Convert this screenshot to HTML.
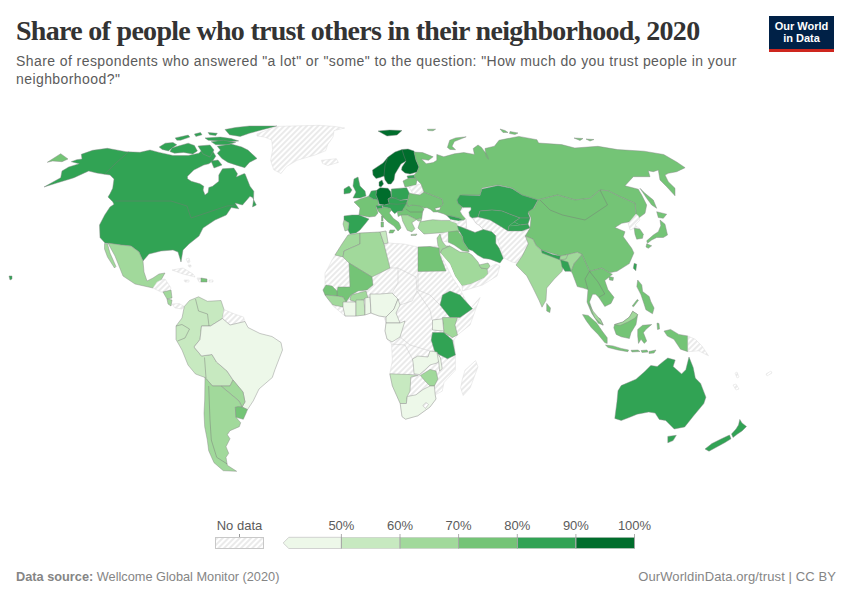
<!DOCTYPE html>
<html><head><meta charset="utf-8">
<style>
html,body{margin:0;padding:0;background:#fff;}
body{width:850px;height:600px;position:relative;overflow:hidden;font-family:"Liberation Sans",sans-serif;}
.t{position:absolute;white-space:nowrap;}
#title{left:16px;top:15px;font-family:"Liberation Serif",serif;font-weight:bold;font-size:28px;letter-spacing:-0.7px;color:#333;}
#sub{left:16px;top:52px;font-size:14px;line-height:18px;letter-spacing:0.42px;color:#5b5b5b;}
#logo{position:absolute;left:769px;top:16px;width:65px;height:33px;background:#002147;border-bottom:3px solid #ce261e;color:#fff;font-size:11px;line-height:12px;text-align:center;font-weight:bold;}
#logo div{padding-top:4px;}
#foot1{left:16px;top:569px;font-size:12.75px;color:#858585;}
#foot2{right:14px;top:569px;font-size:13px;letter-spacing:0.1px;color:#858585;}
.lab{position:absolute;font-size:13px;color:#5b5b5b;top:517px;}
svg{position:absolute;left:0;top:0;}
</style></head><body>
<div class="t" id="title">Share of people who trust others in their neighborhood, 2020</div>
<div class="t" id="sub">Share of respondents who answered "a lot" or "some" to the question: "How much do you trust people in your<br>neighborhood?"</div>
<div id="logo"><div>Our World<br>in Data</div></div>
<svg width="850" height="600" viewBox="0 0 850 600">
<defs>
<pattern id="hatch" width="4" height="4" patternUnits="userSpaceOnUse" patternTransform="rotate(45)"><rect width="4" height="4" fill="#fff"/><line x1="2" y1="0" x2="2" y2="4" stroke="#e4e4e4" stroke-width="1.5"/></pattern>
</defs>
<g id="map" stroke-width="0.45" stroke-linejoin="round">
<path d="M44 187 L56.7 183 L70 179 L74 177.7 L88.7 171 L96.7 173 L104.7 174.3 L110 175 L114 179 L112.7 188.3 L110 193.7 L108 197 L112.7 201.7 L114 204.3 L110 207 L104.7 215 L99.5 225 L100 237.5 L105 243 L121 245 L131 246 L139 252 L143 261 L149 254 L161 251 L173 250 L178 252 L181 262 L183 250 L189 244 L199 236 L203 228 L215 220 L226.3 215 L231.3 207.5 L238.8 208.8 L235 203 L242.5 205 L250 196.3 L252.5 197.5 L256.3 205 L252.5 206.9 L253.5 200 L253.8 191.3 L250 186.3 L245 173.8 L243.8 173.8 L236.3 176.9 L237.5 173.8 L233.8 168.1 L222.5 168.8 L218.8 175 L218.8 181.3 L212.5 186.3 L208.8 187.5 L208.1 192.5 L205 195 L203.1 190 L203.8 186.3 L200 183.8 L191.3 181.3 L187.5 178.8 L187.5 176.3 L193.8 170 L203.8 165 L208.8 163.8 L212.5 161.3 L215.8 156.2 L211.2 148.6 L203.5 148.6 L199 153.2 L188.2 155.5 L173 155.5 L159.2 152.4 L150 150 L140 152.3 L126 151.7 L107.3 148.3 L92.7 150.3 L81.3 154.3 L82 159 L76.7 159.7 L71.3 161.7 L79.3 163.7 L68.7 167 L62 171 L60.7 177.7Z" fill="#31a354" stroke="#888"/>
<path d="M159.2 147 L165.3 143.2 L173 142.5 L176.8 144.8 L171.4 148.6 L168.4 150.9 L162.2 149.4Z" fill="#31a354" stroke="#888"/>
<path d="M177.5 146.3 L188.2 143.2 L194.4 145.5 L197.4 150.9 L192.8 154 L183.6 152.4 L174.5 153.2 L169.9 151.6 L172 148Z" fill="#31a354" stroke="#888"/>
<path d="M175.2 137.9 L188.2 135.1 L189.8 137.1 L180.6 140.2 L176.8 140.2Z" fill="#31a354" stroke="#888"/>
<path d="M194.4 134.1 L200.5 132.5 L202 134.8 L195.9 136.4Z" fill="#31a354" stroke="#888"/>
<path d="M208.1 132.5 L217.3 133.3 L215.8 135.6 L209.6 134.8Z" fill="#31a354" stroke="#888"/>
<path d="M205 137.9 L220.4 137.1 L231.1 138.6 L238.7 140.9 L229.5 141.7 L218.8 140.9 L208.1 140.2Z" fill="#31a354" stroke="#888"/>
<path d="M225 129.5 L235.6 127.5 L249.4 126 L277 126 L263.2 129.5 L249.4 133.3 L240.2 136.4 L229.5 134.8Z" fill="#31a354" stroke="#888"/>
<path d="M211.2 141.7 L223.4 140.2 L235.7 142.5 L226.5 144.8 L215.8 144.8Z" fill="#31a354" stroke="#888"/>
<path d="M217.3 146.3 L231.1 144 L241.8 147 L247.9 150.1 L257 158.5 L249.4 162.4 L244.8 167.7 L237.2 165.4 L228 162.4 L221.9 158.5 L217.3 153.2 L220.4 150.1Z" fill="#31a354" stroke="#888"/>
<path d="M198 146 L210 145 L214 150 L210 157 L203 154Z" fill="#31a354" stroke="#888"/>
<path d="M211 161 L218 160 L222 165 L214 168Z" fill="#31a354" stroke="#888"/>
<path d="M47.3 162.3 L60.7 153.7 L68 159 L62 161.7 L52.7 161Z" fill="#74c476" stroke="#888"/>
<path d="M9 276 L12 276 L12 279 L10 280Z" fill="#31a354" stroke="#888"/>
<path d="M257 133.8 L277 126.4 L299 125.8 L319 125.3 L334 126.4 L344.7 128 L334 130.6 L333 137 L327.8 144.4 L325.7 150.7 L315 155 L297 160.3 L286.5 166.6 L281 173.5 L273.8 169.8 L270.6 160.3 L272.7 149.7 L271.7 140 L264.5 137 L257 136Z" fill="url(#hatch)" stroke="#d9d9d9"/>
<path d="M321.4 160.3 L336.3 158.7 L338.4 162.4 L327.8 165.5 L322.5 163.4Z" fill="url(#hatch)" stroke="#d9d9d9"/>
<path d="M108 243 L121 245 L131 246 L139 252 L143 261 L144 272 L147 281 L153 278 L159 274 L165 273 L161 280 L157 284 L153 288 L135 284 L123 276 L115 256 L109.5 246Z" fill="#a1d99b" stroke="#888"/>
<path d="M104.5 243.5 L107.5 244 L110 253 L116 266.5 L114.5 268 L107.5 257 L104.5 249Z" fill="#a1d99b" stroke="#888"/>
<path d="M153 288 L157 282 L161 280 L165 279 L171 288 L169 292 L161 292Z" fill="url(#hatch)" stroke="#d9d9d9"/>
<path d="M163 292 L171 290 L172 298 L167 299Z" fill="#a1d99b" stroke="#888"/>
<path d="M167 299 L172 300 L171 306 L168 304Z" fill="#a1d99b" stroke="#888"/>
<path d="M172 304 L179 303.5 L184.3 306.5 L182 309 L175 308Z" fill="url(#hatch)" stroke="#d9d9d9"/>
<path d="M172 270 L183 268 L193 274 L195 277 L183 274Z" fill="url(#hatch)" stroke="#d9d9d9"/>
<path d="M197 278 L201 278 L201 282 L199 282Z" fill="url(#hatch)" stroke="#d9d9d9"/>
<path d="M186 259 L189 258 L190 262 L188 263Z" fill="url(#hatch)" stroke="#ddd"/>
<path d="M188 265 L191 265 L191 267 L189 267Z" fill="url(#hatch)" stroke="#ddd"/>
<path d="M184 280 L189 280 L189 282 L185 282Z" fill="url(#hatch)" stroke="#ddd"/>
<path d="M209 280 L213 280 L213 282 L209 282Z" fill="url(#hatch)" stroke="#ddd"/>
<path d="M201 278 L207 279 L207 282 L201 282Z" fill="#74c476" stroke="#888"/>
<path d="M184.3 306.5 L189.5 300.5 L198.5 296.8 L207.5 301.3 L221 300.5 L224 309.5 L222.5 318.5 L210.5 326 L201.5 326 L200 339.5 L194 347 L201.5 356 L212 354.5 L216.5 362 L227 371 L233 380 L230 386 L212.5 386 L205 377.5 L195.5 374 L188 365 L182 350 L176 339.5 L176 326 L182 318Z" fill="#c7e9c0" stroke="#888"/>
<path d="M224 309.5 L234.5 314 L243.5 317 L245 321.5 L230 325 L222.5 318.5Z" fill="url(#hatch)" stroke="#d9d9d9"/>
<path d="M201.5 326 L210.5 326 L222.5 318.5 L230 325 L245 321.5 L248 327.5 L260 333.5 L272 336.5 L281 342.5 L282.5 350 L275 369.5 L272.3 377.5 L259 389 L253.3 400.8 L247.5 409.6 L242 407 L245 402 L243 392 L233 380 L227 371 L216.5 362 L212 354.5 L201.5 356 L194 347 L200 339.5Z" fill="#edf8e9" stroke="#888"/>
<path d="M221 386 L230 386 L233 380 L243 392 L245 402 L242 407 L239 401Z" fill="#a1d99b" stroke="#888"/>
<path d="M205 377.5 L212.5 386 L221 386 L239 401 L242 407 L235.3 407.3 L236 417.3 L240.7 422.7 L239.3 426.7 L230 430.7 L227.3 434.7 L230 438.7 L226 446.7 L228.7 453.3 L226 457.3 L227.3 465.3 L236.7 471.3 L223.3 470.7 L214 462.7 L208.7 450.7 L207.3 440 L204.7 426.7 L204 413.3 L204.7 400Z" fill="#a1d99b" stroke="#888"/>
<path d="M235.3 407.3 L238 406.7 L242 407 L247.5 409.6 L246 413.3 L243.3 419.3 L236 417.3Z" fill="#74c476" stroke="#888"/>
<path d="M372.5 170 L373 175 L376 178.5 L380 177.5 L384 176 L385 180 L388 184 L391 184 L394 180 L395 174 L398 169 L401 164 L406 161 L402 167 L401.5 170 L405 173 L410 174 L417 172 L419 167 L416 160 L414 151 L408 149 L402 149.5 L395 152 L388 157 L383 163 L377 167Z" fill="#006d2c" stroke="#888"/>
<path d="M378 131 L389.5 130 L402 130.5 L397 135 L387 136Z" fill="#006d2c" stroke="#888"/>
<path d="M379 182 L382 180 L383.5 184 L381 187 L379 186Z" fill="#006d2c" stroke="#888"/>
<path d="M354 179 L358 177 L360 186 L365 191 L366 196 L360 198 L353 198 L356 192 L353 186Z" fill="#31a354" stroke="#888"/>
<path d="M344 189 L349 186 L352 190 L350 193 L344 194Z" fill="#31a354" stroke="#888"/>
<path d="M354 202 L360 199 L368.7 196.3 L373.3 199 L378 199.7 L378.7 205 L376 207 L378 213 L375.3 216.3 L369.3 217 L364 216 L359 215 L360 208Z" fill="#74c476" stroke="#888"/>
<path d="M371.3 191 L376.7 190.3 L376 195 L378 199.7 L373.3 199 L368.7 196.3Z" fill="#31a354" stroke="#888"/>
<path d="M376.7 190.3 L380 187.7 L388 188.3 L390.7 191.7 L391.3 197 L388 199 L389.3 203.7 L384.7 205 L379.3 204.3 L378 199.7 L376 195Z" fill="#006d2c" stroke="#888"/>
<path d="M344 216 L352 215 L359 215 L369 219 L365 224 L360 230 L356 233 L350 234 L348 230 L349 223 L344 220Z" fill="#31a354" stroke="#888"/>
<path d="M344 220 L349 223 L348 230 L345 231 L343 224Z" fill="#a1d99b" stroke="#888"/>
<path d="M376 205.7 L382 205 L382.7 208.3 L377.3 209Z" fill="#31a354" stroke="#888"/>
<path d="M382 205 L384.7 205 L389.3 203.7 L388 199 L391.3 197 L397.3 197.7 L400 200.3 L408 199.7 L406.7 203 L408 206.3 L403.3 209 L402.7 211 L397.3 211.7 L394.7 213.7 L391.3 210.3 L390 208.3 L383.3 207Z" fill="#31a354" stroke="#888"/>
<path d="M391.3 189 L406.7 187.7 L409.3 193 L408 199 L400 200.3 L391.3 197Z" fill="#31a354" stroke="#888"/>
<path d="M377.3 209 L382.7 208.3 L383.3 207 L390 208.3 L391.3 210.3 L389.3 213 L393.3 218.3 L398.7 222.3 L400 225 L401 228 L398 231 L394 226 L388 222 L383 217 L380.7 213.7 L378 211Z" fill="#74c476" stroke="#888"/>
<path d="M390 230 L395 230 L393 233 L389 233Z" fill="#74c476" stroke="#888"/>
<path d="M381.5 216 L383 216 L383 221 L381.5 221Z" fill="#74c476" stroke="#888"/>
<path d="M381 222 L383.5 222 L383.5 227 L381 227Z" fill="#74c476" stroke="#888"/>
<path d="M397.3 211.7 L402.7 211 L403.3 209 L406.7 203 L408 206.3 L412 205 L418 202.8 L424.1 208.9 L422.6 212 L421.8 218.1 L416.5 219.6 L411.9 217.3 L407.3 215 L404.2 218.1 L401.2 215 L398.1 216.6Z" fill="#74c476" stroke="#888"/>
<path d="M401.2 215 L407.3 215 L411.9 217.3 L416.5 219.6 L411.9 222.7 L414.9 228.8 L411.9 231.9 L407.3 230.3 L404.2 224.2 L402.7 221.2Z" fill="#a1d99b" stroke="#888"/>
<path d="M416.5 219.6 L421.8 218.1 L421 221.2 L418 221Z" fill="#a1d99b" stroke="#888"/>
<path d="M411 234.5 L417 234 L416 235.5 L411 235.5Z" fill="#a1d99b" stroke="#888"/>
<path d="M407 176 L414 175 L415 178 L408 178.5Z" fill="#31a354" stroke="#888"/>
<path d="M403 181 L408 178.5 L415 178 L417 180 L416 185 L405 187Z" fill="#74c476" stroke="#888"/>
<path d="M409 187 L416 185 L421 184 L424 192 L420 195 L413 194Z" fill="url(#hatch)" stroke="#d9d9d9"/>
<path d="M406.7 203 L408 199 L409.3 193 L413 194 L420 195 L424 192 L442 199 L443.3 204.2 L440.5 206.3 L440.5 207 L434.8 208.4 L436.2 210.2 L439.8 209.8 L437.6 212 L433.4 212 L430.6 209.5 L427 207.7 L424 208 L420 206 L412 205 L408 206.3Z" fill="#74c476" stroke="#888"/>
<path d="M414 152 L422.6 152.6 L433.2 156.8 L428.5 160.3 L421.5 159.1 L426.2 163.8 L433.2 162.6 L436.8 160.3 L436.8 154.4 L443.8 156.8 L454.4 153.8 L463.8 152.6 L474.4 154.4 L473.2 148.5 L478 145 L481.5 147.4 L487.4 155.6 L488.5 159.1 L486.2 156.8 L485 148.5 L494.4 146.2 L499 140.3 L505 139.1 L518.8 136.4 L536.9 139.7 L538.6 143 L561.6 144.6 L574.8 148 L597.9 146.3 L617.6 149.6 L644 151.2 L663.7 154.5 L676.7 162 L685.1 167.7 L676.7 171.7 L668.3 173.3 L665 175 L668.3 181.7 L675 188.3 L675 195.8 L666.7 186.7 L660 180 L658.3 170 L653.3 171.7 L648.3 170.8 L650 176.7 L633.3 176.7 L625 185.8 L638.3 189.2 L641.7 195 L646.7 205 L645 213.3 L638.3 218.3 L631.7 223.3 L630 221.7 L636 214 L635 203.3 L620 196.7 L608.3 190.8 L600 190 L590 198.3 L575 200 L557.5 195 L538 200 L522 195 L512 188 L498 185 L482 188 L480 195 L462 195 L457 200 L458.1 203.5 L462.3 207 L460.2 211.2 L462.3 214.8 L465.9 219 L463.8 220.4 L459.5 218.3 L451.8 216.2 L446.8 215.5 L444 214 L437.6 212 L439.8 209.8 L440.5 207 L440.5 206.3 L443.3 204.2 L442 199 L424 192 L421 184 L417 180 L415 178 L414 175 L417 172 L419 167 L416 160Z" fill="#74c476" stroke="#888"/>
<path d="M447.4 147.4 L449.7 140.3 L455.6 137.9 L466.2 136.8 L454.4 141.5 L452 146.2 L455.6 149.7 L450 149.5Z" fill="#74c476" stroke="#888"/>
<path d="M640 188.3 L645 193.3 L653.3 200 L656.7 208.3 L651.7 205 L646.7 198.3Z" fill="#74c476" stroke="#888"/>
<path d="M500 129 L505 130.5 L508 132.5 L503 132.5Z" fill="#74c476" stroke="#888"/>
<path d="M510 131.5 L518 133 L515 134.5 L509.5 133.5Z" fill="#74c476" stroke="#888"/>
<path d="M427.4 129.2 L435.6 129.2 L433 130.8 L428 130.6Z" fill="#74c476" stroke="#888"/>
<path d="M574 138 L583 138.5 L580 140.5Z" fill="#74c476" stroke="#888"/>
<path d="M586 139 L594 139.5 L590 141Z" fill="#74c476" stroke="#888"/>
<path d="M469.4 216.2 L472 218 L478 217 L492 210 L512 215 L530 218 L528 224 L522 230 L528 230 L536 244 L542 250 L526 256 L522 264 L512 262 L504 258 L497 238 L495.8 235.8 L491.7 231.7 L483.3 229.6 L480 226 L475.8 223.2 L473.6 219.7Z" fill="url(#hatch)" stroke="#d9d9d9"/>
<path d="M457 200 L460 195 L480 195.6 L482 189 L498 185.6 L512 188.4 L522 195 L538 200 L533 209 L528 213 L530 218 L520 218 L512 215 L502 211 L492 210 L480 211 L478 217 L472 218 L469.4 216.2 L468.7 211.9 L470.8 209.8 L470.8 207.7 L463.8 207.7 L462.3 207 L458.1 203.5Z" fill="#31a354" stroke="#888"/>
<path d="M480 211 L492 210 L502 211 L512 215 L520 218 L514 222 L509 226 L508 231 L500 226 L490 220 L478 217Z" fill="#31a354" stroke="#888"/>
<path d="M520 218 L530 218 L528 224 L520 225 L514 222Z" fill="#31a354" stroke="#888"/>
<path d="M509 226 L520 225 L528 224 L530 228 L522 231 L512 231 L508 231Z" fill="#31a354" stroke="#888"/>
<path d="M514 222 L520 225 L509 226Z" fill="#31a354" stroke="none"/>
<path d="M460.2 211.2 L463.8 207.7 L470.8 207.7 L470.8 209.8 L468.7 211.9 L469.4 216.2 L473.6 219.7 L475.8 223.2 L480 226 L483.3 229.6 L475 232.5 L466.7 229.2 L465.9 219 L462.3 214.8Z" fill="#fff" stroke="#bbb"/>
<path d="M538 200 L557.5 195 L575 200 L590 198.3 L600 190 L608.3 190.8 L620 196.7 L635 203.3 L636 214 L630 221.7 L621.7 223.3 L615 227.5 L625 231.7 L623.3 236.7 L631.7 248.3 L633.9 252.9 L629.3 263.6 L617 271.3 L609.4 272.8 L601.7 268.2 L595.6 269.8 L589.5 271.3 L582 254.5 L577.3 252.2 L568 254.5 L560.5 256 L541.3 249.9 L536 245.3 L533 239.2 L525.3 236.1 L530 228 L531 218 L528 212 L534 208Z" fill="#74c476" stroke="#888"/>
<path d="M609 276.5 L613.5 277.5 L613 280.5 L609.5 280Z" fill="#74c476" stroke="#888"/>
<path d="M634.2 263.3 L636.7 264.2 L635.8 270.8 L633.3 268.3Z" fill="#31a354" stroke="#888"/>
<path d="M628.3 223.3 L636 214 L638.3 215.8 L640 220 L635 225 L640 229.2 L634.2 228.3 L630 230Z" fill="url(#hatch)" stroke="#d9d9d9"/>
<path d="M634.2 228.3 L640 229.2 L643.3 234.2 L642.5 238.3 L636.7 239.2 L635 234.2Z" fill="#74c476" stroke="#888"/>
<path d="M656.7 211.7 L666.7 214.2 L663.3 218.3 L658.3 217.5Z" fill="#74c476" stroke="#888"/>
<path d="M660 220 L665 224.2 L667.5 235 L663.3 237.5 L656.7 237.5 L651.7 240 L647.5 243.3 L646.7 240.8 L653.3 235 L658.3 231.7 L660.8 225.8Z" fill="#74c476" stroke="#888"/>
<path d="M646.7 243.8 L651.7 245.8 L648.3 248.3 L646 247Z" fill="#74c476" stroke="#888"/>
<path d="M420 221.8 L424.2 221.1 L432.7 219.7 L441.2 220.4 L449.6 220.4 L450.3 221.1 L456.7 223.2 L458.1 226.8 L459.5 231.7 L458 232 L438 233 L424 234 L418 228Z" fill="#a1d99b" stroke="#888"/>
<path d="M446.8 215.5 L451.8 216.2 L459.5 218.3 L463.8 220.4 L458.1 221.1 L451 219.7Z" fill="#31a354" stroke="#888"/>
<path d="M451 219.7 L458.1 221.1 L463.8 220.4 L465.9 219 L466.7 229.2 L462.5 227.5 L457.5 225.8 L456.7 223.2 L450.3 221.1Z" fill="url(#hatch)" stroke="#d9d9d9"/>
<path d="M457.5 225.8 L462.5 227.5 L466.7 229.2 L475 232.5 L483.3 229.6 L491.7 231.7 L495.8 235.8 L495.8 243.3 L499.2 248.3 L503.3 258.3 L500 262.9 L490 259.2 L483.3 258.3 L477.5 255 L472.5 250.8 L468.3 249.2 L463.3 241.7 L462.5 236.7 L458.3 229.2Z" fill="#31a354" stroke="#888"/>
<path d="M448 232 L457.5 230.8 L462.5 236.7 L463.3 241.7 L468.3 249.2 L469.2 251.7 L462.5 250.8 L454.2 245 L448 242Z" fill="#74c476" stroke="#888"/>
<path d="M440 234 L448 232 L448 242 L442 241Z" fill="url(#hatch)" stroke="#d9d9d9"/>
<path d="M437 238 L440 234 L442 241 L446 246 L450 246 L442 249.5 L440.5 253 L438.5 250Z" fill="#a1d99b" stroke="#888"/>
<path d="M440.5 253 L442 249.5 L450 246 L460 252 L468 252.5 L472 255 L478 262 L481 268 L487 268 L488 274 L484 278 L471 284 L462 286 L455 276 L450 264Z" fill="#a1d99b" stroke="#888"/>
<path d="M481 268 L479 265 L488 263 L490 266 L488 269Z" fill="#a1d99b" stroke="#888"/>
<path d="M438.5 256 L440.5 253 L450 264 L455 276 L462 286 L460 294 L456 290 L450 282 L446 271Z" fill="#fff" stroke="none"/>
<path d="M462 286 L471 284 L484 278 L488 274 L488 269 L492 266 L496 264 L500 266 L497 276 L482.5 285 L462.5 291Z" fill="url(#hatch)" stroke="#d9d9d9"/>
<path d="M516 265 L522.2 256 L528.3 243.8 L525.3 236.1 L533 239.2 L536 245.3 L542 251.4 L560.5 259.8 L568 254.5 L577.3 252.2 L582 254.5 L574.2 263.6 L571.2 271.3 L568 269.8 L563.5 265.2 L562 271.3 L554.3 279 L546.7 288 L546 300.3 L542 307.2 L539 300.3 L533 288 L526.8 275.9 L520.7 269.8Z" fill="#a1d99b" stroke="#888"/>
<path d="M541.3 249.9 L552.8 254.5 L560.5 256 L559.7 259.8 L542 253Z" fill="#31a354" stroke="#888"/>
<path d="M559.7 259.8 L560.5 256 L568 254.5 L566 259 L560.5 259.8Z" fill="#a1d99b" stroke="#888"/>
<path d="M560.5 259.8 L568 262.1 L571.2 271.3 L565 271.3 L562 266.7Z" fill="#31a354" stroke="#888"/>
<path d="M546.7 303.4 L550.5 308 L549.8 312.6 L546.7 311Z" fill="#74c476" stroke="#888"/>
<path d="M582 254.5 L589.5 271.3 L595.6 269.8 L601.7 268.2 L609.4 272.8 L612.4 274.3 L604.8 280.5 L607.9 289.6 L614 297.3 L611 303.4 L604.8 306.5 L598.7 297.3 L595.6 294.2 L592.6 294.2 L589.5 301.9 L594.1 315.6 L600.2 318.7 L603.3 325 L598.3 323.3 L591.7 313.3 L587 302 L588 289.6 L583.4 288.1 L577.3 286.6 L572.7 274.3 L571.2 271.3 L574.2 263.6Z" fill="#74c476" stroke="#888"/>
<path d="M589 304.7 L593.2 311.3 L601.4 321.2 L603 325.3 L594.8 317.9Z" fill="#a1d99b" stroke="#888"/>
<path d="M582.5 314.6 L588.2 315.4 L596.5 322.8 L602.2 331.1 L607.2 337.7 L607.2 343.4 L604.7 342.6 L598.1 334.4 L591.5 327.8 L586.6 321.2Z" fill="#74c476" stroke="#888"/>
<path d="M605.5 345.1 L613 345.9 L621.2 348.4 L628.6 350 L627.8 351.7 L617.9 350 L608 347.5Z" fill="#74c476" stroke="#888"/>
<path d="M631 350.3 L638 350 L640 351.5 L632 352Z" fill="#74c476" stroke="#888"/>
<path d="M641 350.5 L647 350 L648 352 L642 352.5Z" fill="#74c476" stroke="#888"/>
<path d="M649 351.5 L656 350 L654 353 L649 353.5Z" fill="#74c476" stroke="#888"/>
<path d="M614.6 324.5 L622.8 322 L629.4 317.1 L632.7 311.3 L637.7 314.6 L636 324.5 L631 332.7 L629.4 338.5 L621.2 336.8 L616.2 334.4 L613.8 327.8Z" fill="#74c476" stroke="#888"/>
<path d="M614.6 324.5 L622.8 322 L629.4 317.1 L632.7 311.3 L637.7 314.6 L635 318 L628 322 L620 325.5Z" fill="#a1d99b" stroke="#888"/>
<path d="M637.7 329.4 L642.6 325.3 L651.7 324.5 L645.9 329.4 L643.4 332.7 L646.7 341 L644.3 343.4 L641 339.3 L638.5 343.4 L637.7 336Z" fill="#74c476" stroke="#888"/>
<path d="M664 331.1 L670.6 329.4 L678.8 334.4 L687.9 336 L687.9 351.7 L680.5 349.2 L673.9 339.3 L667.3 336Z" fill="#74c476" stroke="#888"/>
<path d="M687.9 336 L695.3 339.3 L701.9 345.9 L708.5 355.8 L698.6 350.8 L687.9 351.7Z" fill="url(#hatch)" stroke="#d9d9d9"/>
<path d="M637.7 280 L641.8 284.9 L642.6 291.5 L649.2 296.5 L650.8 301.4 L654.1 308 L652.5 313.8 L645.9 309.7 L644.3 304.7 L641 294.8 L636.8 286.6Z" fill="#74c476" stroke="#888"/>
<path d="M637.2 299.5 L638.5 300.3 L633.5 306.8 L632.2 306Z" fill="#74c476" stroke="#888"/>
<path d="M657 323 L659 323.5 L659.5 329 L657.5 329.5Z" fill="#74c476" stroke="#888"/>
<path d="M348 235 L360 233 L380 232 L386 231 L388 243 L404 244 L418 247 L438 246 L440 253 L446 265 L452 277 L460 289 L470 309 L480 297.5 L470 325 L457.5 335 L453.8 340 L455.4 356 L455.4 370.2 L444 382.5 L442.2 391.2 L435.2 394.8 L436 399 L430 407 L417.8 415.8 L405.5 419.2 L402 416.6 L400.2 403.5 L392.4 386 L389.8 373.8 L392.4 360.6 L391.5 344 L387 339 L385 331 L386 323 L384 317 L379 316 L370 313 L364 315 L356 316 L345 316 L339 311 L332 305 L328 299 L325 294 L323 290 L325 285 L325 273 L328 268 L332 260 L335 255 L342 244Z" fill="url(#hatch)" stroke="#d9d9d9"/>
<path d="M348 235 L360 233 L360 244 L344 251 L343 257 L335 255 L342 244Z" fill="#a1d99b" stroke="#888"/>
<path d="M360 233 L380 232 L384 244 L390 268 L372 277 L349 263 L343 257 L344 251 L360 244Z" fill="#a1d99b" stroke="#888"/>
<path d="M380 232 L386 231 L388 243 L384 244Z" fill="#c7e9c0" stroke="#888"/>
<path d="M418 247 L430 246.5 L439 248 L440 255 L446 271 L418 271.5Z" fill="#74c476" stroke="#888"/>
<path d="M349 263 L372 277 L373 285 L367 290 L358 291 L351 295 L346 302 L343 297 L337 296 L337 291 L338 287 L350 287Z" fill="#74c476" stroke="#888"/>
<path d="M323 290 L326 285 L332 286 L337 291 L337 296 L325 295Z" fill="#74c476" stroke="#888"/>
<path d="M325 295 L337 296 L343 297 L346 302 L343 307 L333 305 L328 299Z" fill="#a1d99b" stroke="#888"/>
<path d="M343 302 L356 302 L356 316 L345 316 L343 307Z" fill="#edf8e9" stroke="#888"/>
<path d="M351 295 L366 291 L368 298 L356 302 L350 300Z" fill="#a1d99b" stroke="#888"/>
<path d="M356 300 L364 300 L365 315 L356 316Z" fill="#c7e9c0" stroke="#888"/>
<path d="M365 298 L370 297 L371 313 L365 315Z" fill="#edf8e9" stroke="#888"/>
<path d="M370 294 L380 294 L392 293 L398 299 L394 309 L386 317 L379 316 L371 313Z" fill="#edf8e9" stroke="#888"/>
<path d="M398 299 L400 305 L396 313 L400 323 L386 323 L386 317 L394 309Z" fill="#edf8e9" stroke="#888"/>
<path d="M386 323 L400 323 L405 321 L400 337 L392 342 L387 339 L385 331Z" fill="#edf8e9" stroke="#888"/>
<path d="M442.5 295 L450 291 L460 295 L472.5 308.8 L460 317.5 L450 317.5 L440 305Z" fill="#31a354" stroke="#888"/>
<path d="M442.5 317.5 L457.5 317.5 L455 325 L457.5 335 L452.5 337.5 L443.8 332.5Z" fill="#a1d99b" stroke="#888"/>
<path d="M432.5 320 L442.5 318.8 L443.8 331 L432.5 330Z" fill="#edf8e9" stroke="#888"/>
<path d="M432.5 332.5 L443.8 332.5 L452.5 340 L455.4 355 L447.5 358.8 L435 352.5 L431.2 340Z" fill="#31a354" stroke="#888"/>
<path d="M412.5 359 L417.8 356 L428 357 L430 351 L437 352 L440.5 359 L437 363 L430 365 L424.8 370 L419.5 374.6 L414 373.8 L413.4 365Z" fill="#edf8e9" stroke="#888"/>
<path d="M437 352.8 L440.5 358 L442.2 368.5 L439.6 371 L438.8 363Z" fill="#edf8e9" stroke="#888"/>
<path d="M420.4 375.5 L430 369.4 L436 371 L437.9 379 L434.4 386 L430 386 L424.8 380.8Z" fill="#a1d99b" stroke="#888"/>
<path d="M389.8 373.8 L410.8 374.6 L417.8 375.5 L410.8 377.2 L410 391.2 L407.2 396.5 L406.4 403.5 L400.2 403.5 L392.4 386Z" fill="#c7e9c0" stroke="#888"/>
<path d="M406.4 403.5 L407.2 396.5 L416 394.8 L423 389.5 L430 386 L434.4 386 L435.2 394.8 L436 399 L430 407 L417.8 415.8 L405.5 419.2 L402 416.6 L400.2 403.5Z" fill="#edf8e9" stroke="#888"/>
<path d="M422.8 405.5 L426 402.5 L428.5 404.5 L425.5 408.5Z" fill="url(#hatch)" stroke="#aaa"/>
<path d="M465 370.2 L475.5 360.6 L478 366.8 L470.2 387.8 L463.2 395.6 L460.6 387.8 L462.4 379Z" fill="url(#hatch)" stroke="#d9d9d9"/>
<path d="M614.8 418.4 L617 401.4 L618 390.8 L621.2 385.6 L636 379.2 L644.5 371.8 L650.8 365.4 L657.2 366.5 L663.6 361.2 L667.8 358 L675.2 360.1 L673.1 366.5 L681.6 373.9 L685.8 369.7 L689 357 L693.2 367.5 L695.3 378.1 L700.6 383.4 L705.9 397.2 L703.8 403.6 L693.2 416.3 L684.7 426.9 L674.2 429 L665.7 420.5 L659.3 419.4 L655.1 413.1 L648.7 412 L637.1 414.2 L629.7 417.3 L621.2 420.5Z" fill="#31a354" stroke="#888"/>
<path d="M667.8 436.4 L676.3 435.3 L673.1 440.6 L667.8 442.8Z" fill="#31a354" stroke="#888"/>
<path d="M739.8 419.4 L742 423 L746.5 426.5 L742 431 L737.5 434 L733 437.5 L731.5 434 L736 429 L738.5 425Z" fill="#31a354" stroke="#888"/>
<path d="M729.5 435 L731 438.8 L725 442.5 L718.6 446 L709 451.2 L705 449 L712 443.5 L721 439Z" fill="#31a354" stroke="#888"/>
<path d="M735 373 L737 372 L739 377 L737 378Z" fill="url(#hatch)" stroke="#ddd"/>
<path d="M733 385 L736 384 L739 389 L736 390Z" fill="url(#hatch)" stroke="#ddd"/>
<path d="M766 374 L771 371 L772 373 L767 376Z" fill="url(#hatch)" stroke="#ddd"/>
<path d="M115 201 L171 201 L187 206 L191 218 L203 214 L215 210 L227 206 L236 205" fill="none" stroke="#777"/>
<path d="M104.7 174 L116 163 L128.7 151.7" fill="none" stroke="#777"/>
<path d="M195.5 299 L198.5 311 L207.5 314 L209 326" fill="none" stroke="#777"/>
<path d="M176 326 L182 324.5 L189.5 329 L185 338 L177.5 341" fill="none" stroke="#777"/>
<path d="M204.5 357.5 L206 378" fill="none" stroke="#777"/>
<path d="M208.7 386 L210 420 L211.3 440 L216.7 457.3 L227.3 464" fill="none" stroke="#777"/>
<path d="M388 157 L385 165 L384 176" fill="none" stroke="#777"/>
<path d="M402 149.5 L404 156 L406 161" fill="none" stroke="#777"/>
<path d="M388 199 L397.3 197.7" fill="none" stroke="#777"/>
<path d="M389.3 203.7 L397.3 204.3 L406.7 203" fill="none" stroke="#777"/>
<path d="M405.7 208.9 L410.3 212 L422.6 212" fill="none" stroke="#777"/>
<path d="M540 200 L550 210 L562.5 215 L585 220 L607.5 205 L600 190" fill="none" stroke="#777"/>
<path d="M589.5 271.3 L585 279 L588 289.6" fill="none" stroke="#777"/>
<path d="M589.5 271.3 L598 282 L604.8 294 L598.7 297.3" fill="none" stroke="#777"/>
<path d="M390 268 L398 268 L398 283 L392 293" fill="none" stroke="#c4c4c4"/>
<path d="M398 268 L416 277 L417 291 L412 301 L400 305" fill="none" stroke="#c4c4c4"/>
<path d="M418 271 L418 290 L430 295 L440 305" fill="none" stroke="#c4c4c4"/>
<path d="M417 291 L430 310 L432 320" fill="none" stroke="#c4c4c4"/>
<path d="M400 337 L410 345 L430 351" fill="none" stroke="#c4c4c4"/>
<path d="M391.5 344 L405 345 L412.5 359" fill="none" stroke="#c4c4c4"/>
<path d="M410.8 374.6 L420 375" fill="none" stroke="#c4c4c4"/>
</g><!--endmap-->
<g id="legend">
<rect x="215.5" y="537.5" width="48" height="11" fill="url(#hatch)" stroke="#c8c8c8" stroke-width="1"/>
<line x1="239.5" y1="534" x2="239.5" y2="537" stroke="#999" stroke-width="1"/>
<path d="M283.2 543 L288.8 537.3 L341.4 537.3 L341.4 548.5 L288.8 548.5 Z" fill="#edf8e9" stroke="#c8c8c8" stroke-width="0.8"/>
<rect x="341.4" y="537.3" width="58.6" height="11.2" fill="#c7e9c0" stroke="#c8c8c8" stroke-width="0.6"/>
<rect x="400.0" y="537.3" width="58.6" height="11.2" fill="#a1d99b" stroke="#c8c8c8" stroke-width="0.6"/>
<rect x="458.6" y="537.3" width="58.7" height="11.2" fill="#74c476" stroke="#c8c8c8" stroke-width="0.6"/>
<rect x="517.3" y="537.3" width="58.6" height="11.2" fill="#31a354" stroke="#c8c8c8" stroke-width="0.6"/>
<rect x="575.9" y="537.3" width="58.6" height="11.2" fill="#006d2c" stroke="#c8c8c8" stroke-width="0.6"/>
<line x1="341.4" y1="534" x2="341.4" y2="548.5" stroke="#999" stroke-width="0.8"/>
<line x1="400.0" y1="534" x2="400.0" y2="548.5" stroke="#999" stroke-width="0.8"/>
<line x1="458.6" y1="534" x2="458.6" y2="548.5" stroke="#999" stroke-width="0.8"/>
<line x1="517.3" y1="534" x2="517.3" y2="548.5" stroke="#999" stroke-width="0.8"/>
<line x1="575.9" y1="534" x2="575.9" y2="548.5" stroke="#999" stroke-width="0.8"/>
<line x1="634.5" y1="534" x2="634.5" y2="548.5" stroke="#999" stroke-width="0.8"/>
<g font-family="Liberation Sans" font-size="13" fill="#5b5b5b" text-anchor="middle">
<text x="239.5" y="530">No data</text>
<text x="341.4" y="530">50%</text>
<text x="400.0" y="530">60%</text>
<text x="458.6" y="530">70%</text>
<text x="517.3" y="530">80%</text>
<text x="575.9" y="530">90%</text>
<text x="634.5" y="530">100%</text>
</g>
</g>
</svg>
<div class="t" id="foot1"><b>Data source:</b> Wellcome Global Monitor (2020)</div>
<div class="t" id="foot2">OurWorldinData.org/trust | CC BY</div>
</body></html>
